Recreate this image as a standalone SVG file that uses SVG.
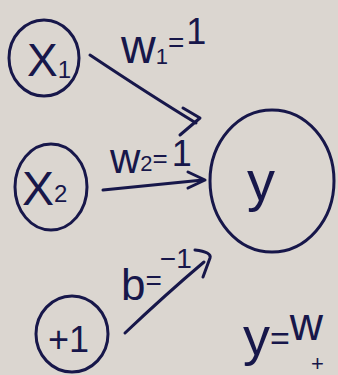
<svg xmlns="http://www.w3.org/2000/svg" width="338" height="375" viewBox="0 0 338 375">
<style>
.ink{fill:none;stroke:#17174a;stroke-width:3;stroke-linecap:round;stroke-linejoin:round}
.t{fill:#17174a;font-family:"Liberation Sans",Arial,sans-serif}
</style>
<rect width="338" height="375" fill="#dbd6d0"/>
<g id="x1">
<ellipse class="ink" cx="44" cy="58" rx="35" ry="38"/>
<text class="t" x="27" y="76" font-size="46">X<tspan font-size="24" dy="2">1</tspan></text>
</g>
<g id="x2">
<ellipse class="ink" cx="51" cy="187" rx="36" ry="43"/>
<text class="t" x="22" y="205" font-size="48">X<tspan font-size="24" dy="-3">2</tspan></text>
</g>
<g id="bias">
<ellipse class="ink" cx="72" cy="334" rx="36" ry="38"/>
<text class="t" x="48" y="352" font-size="36">+1</text>
</g>
<g id="y">
<ellipse class="ink" cx="272" cy="181" rx="62" ry="71"/>
<text class="t" x="247" y="200" font-size="56">y</text>
</g>
<g id="connectors">
<path class="ink" d="M90 55 Q150 95 196 123"/>
<path class="ink" d="M183 108 L200 118 L180 135"/>
<path class="ink" d="M103 190 L203 180"/>
<path class="ink" d="M188 172 L205 180 L188 188"/>
<path class="ink" d="M125 333 Q165 295 204 262"/>
<path class="ink" d="M195 250 Q212 252 210 258 L203 277"/>
</g>
<g id="labels">
<text class="t" x="121" y="63" font-size="48">w<tspan font-size="22" dy="1">1</tspan><tspan font-size="28" dy="-12">=</tspan><tspan font-size="36" dy="-8" dx="2">1</tspan></text>
<text class="t" x="110" y="173" font-size="42">w<tspan font-size="22" dy="-2">2</tspan><tspan font-size="26" dy="-4">=</tspan><tspan font-size="36" dy="-1" dx="4">1</tspan></text>
<text class="t" x="121" y="300" font-size="44">b<tspan font-size="28" dy="-10">=</tspan><tspan font-size="28" dy="-22" dx="-2">−1</tspan></text>
<text class="t" x="243" y="355" font-size="54">y<tspan font-size="34" dy="-5">=</tspan><tspan font-size="46" dy="-10">w</tspan></text>
<text class="t" x="311" y="371" font-size="22">+</text>
</g>
</svg>
